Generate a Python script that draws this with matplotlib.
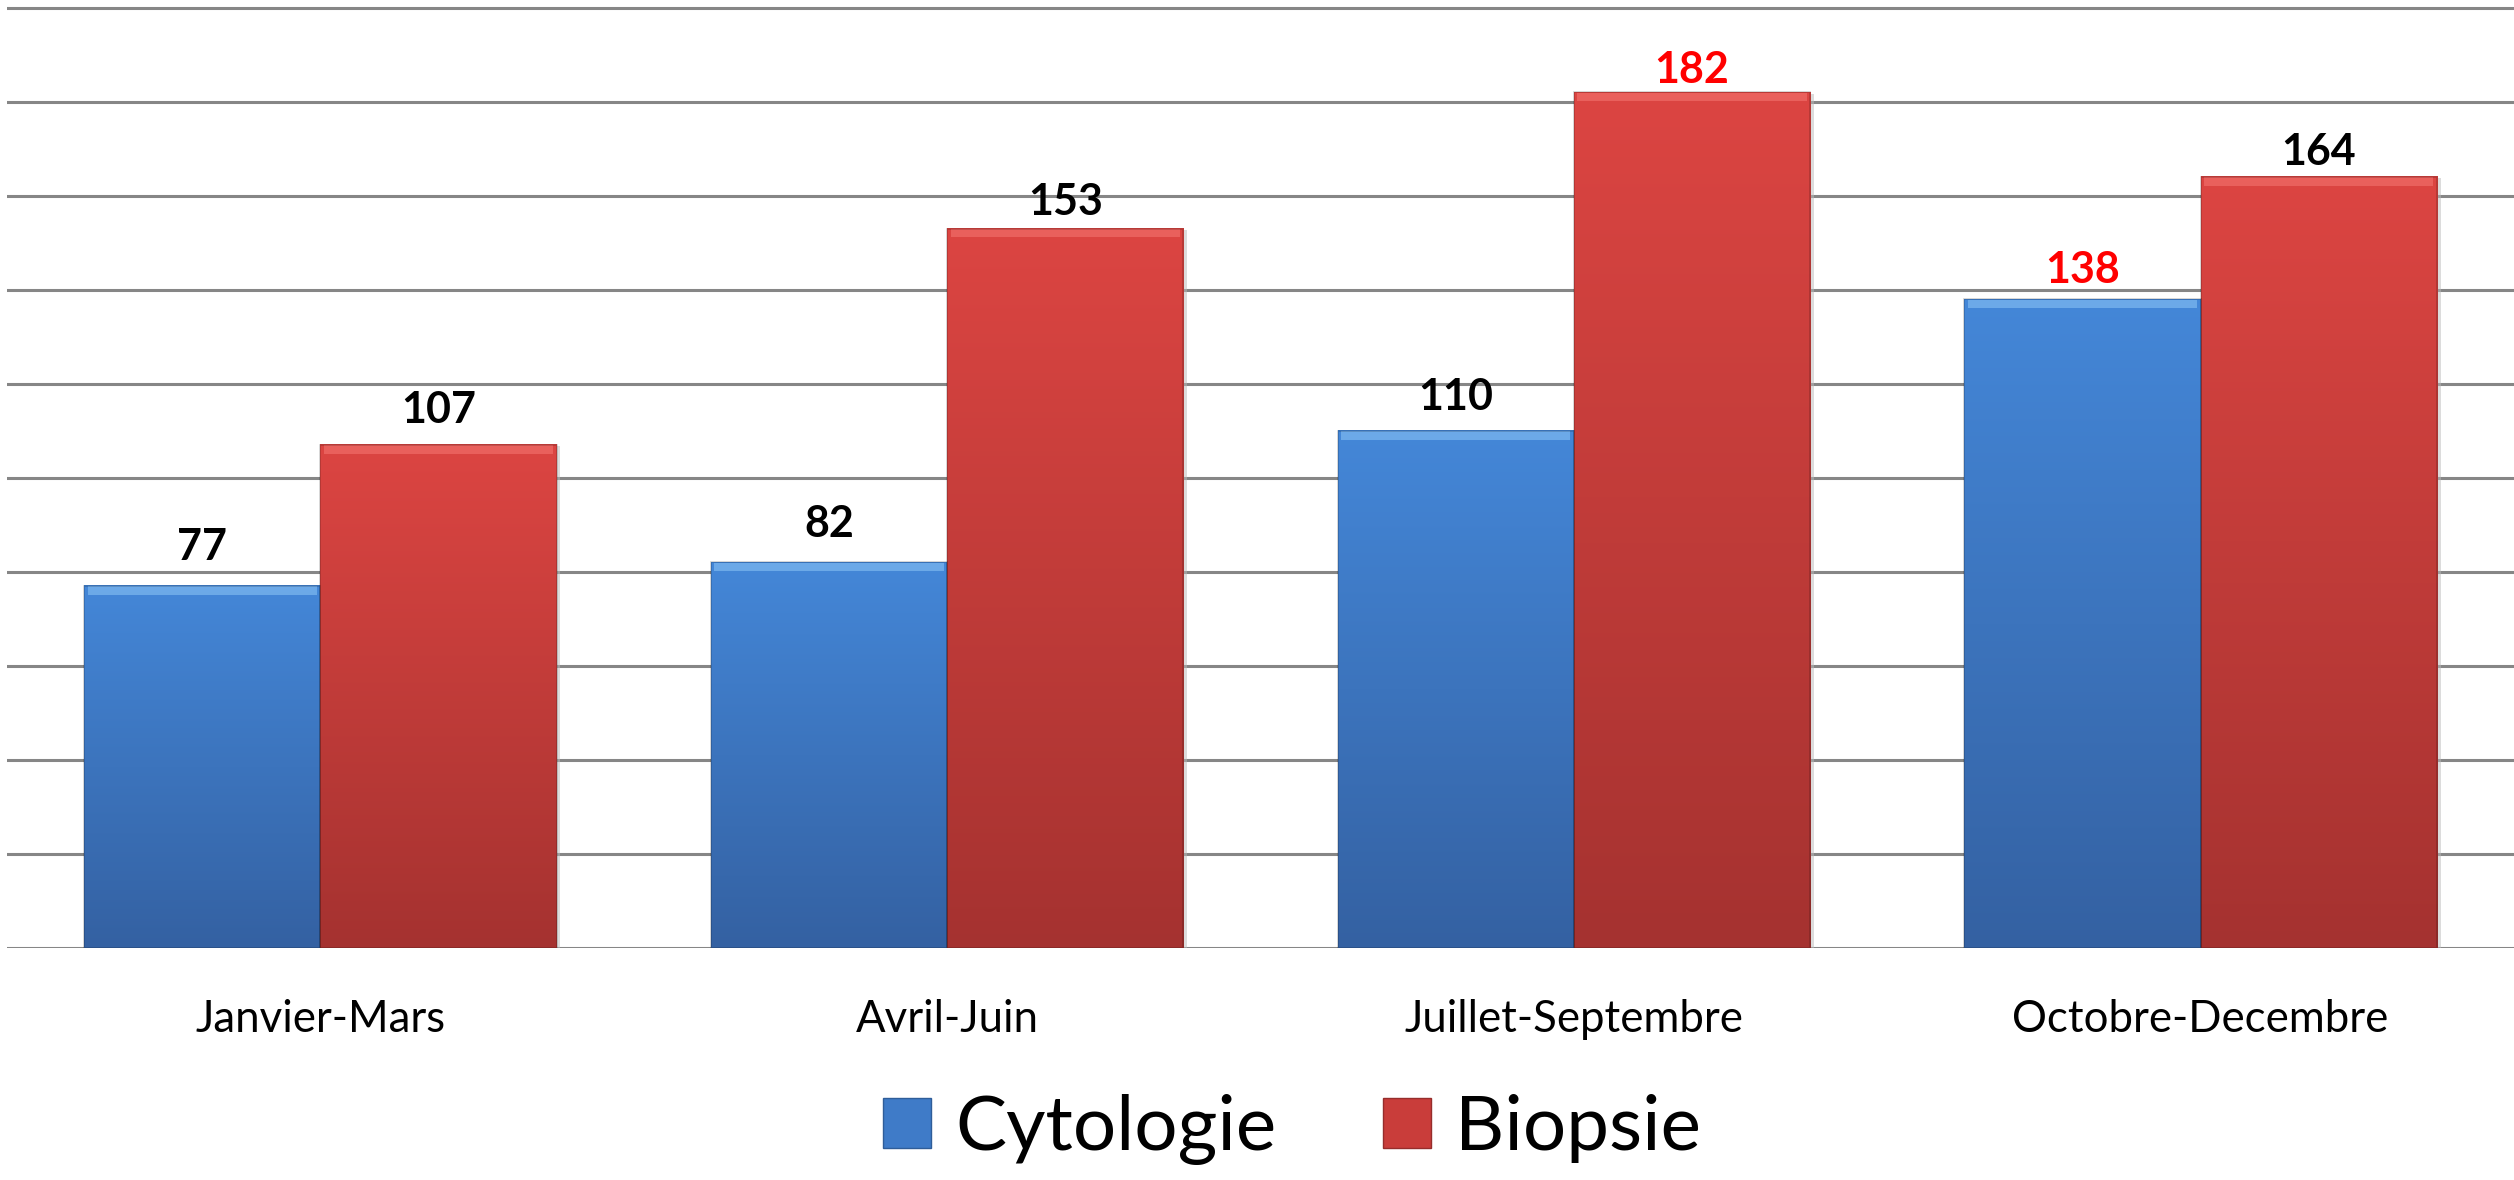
import numpy as np
import matplotlib
matplotlib.use("Agg")
import matplotlib.pyplot as plt
from matplotlib.colors import LinearSegmentedColormap
from matplotlib.patches import Patch

categories = ["Janvier-Mars", "Avril-Juin", "Juillet-Septembre", "Octobre-Decembre"]
series_names = ["Cytologie", "Biopsie"]
cytologie = [77, 82, 110, 138]
biopsie = [107, 153, 182, 164]
# labels shown in red in the original
red_labels = {("Cytologie", 3), ("Biopsie", 2)}

plt.rcParams["font.family"] = ["Lato", "DejaVu Sans"]

fig = plt.figure(figsize=(25.14, 11.8), dpi=100)
ax = fig.add_axes([7 / 2514, 232 / 1180, 1 - 7 / 2514, 1 - 232 / 1180])

cmap_blue = LinearSegmentedColormap.from_list("b", ["#3461a2", "#4487d8"])
cmap_red = LinearSegmentedColormap.from_list("r", ["#a53230", "#dc4542"])
top_blue = "#7ab6ee"
top_red = "#ef6a66"

width = 0.377
x = np.arange(len(categories))
grad = np.linspace(0, 1, 256).reshape(-1, 1)


def draw_bar(xc, h, cmap, top_col):
    x0, x1 = xc - width / 2, xc + width / 2
    # faint shadow
    ax.bar(xc + 0.006, h, width, bottom=-0.3, color="#bbbbbb", alpha=0.5, zorder=2)
    ax.imshow(grad, cmap=cmap, origin="lower", extent=[x0, x1, 0, h],
              aspect="auto", zorder=3, interpolation="bilinear")
    # bevel highlight at the top
    ax.bar(xc, 1.8, width * 0.97, bottom=h - 1.9, color=top_col, alpha=0.75,
           zorder=4, linewidth=0)
    ax.bar(xc, h, width, color="none", edgecolor="#00000030", linewidth=1.2, zorder=5)


for i in range(len(categories)):
    draw_bar(x[i] - width / 2, cytologie[i], cmap_blue, top_blue)
    draw_bar(x[i] + width / 2, biopsie[i], cmap_red, top_red)

for name, vals, off in [("Cytologie", cytologie, -width / 2), ("Biopsie", biopsie, width / 2)]:
    for i, v in enumerate(vals):
        col = "#ff0000" if (name, i) in red_labels else "black"
        ax.text(x[i] + off, v * 0.965 + 8.3, str(v), ha="center", va="baseline",
                fontsize=31, fontweight="bold", color=col, zorder=6)

ax.set_xlim(-0.5, len(categories) - 0.5)
ax.set_ylim(0, 201.6)
ax.set_yticks(np.arange(0, 201, 20))
ax.set_yticklabels([])
ax.grid(axis="y", color="#868686", linewidth=2.2, zorder=0)
ax.set_axisbelow(True)
ax.tick_params(length=0)
ax.set_xticks(x)
ax.set_xticklabels(categories, fontsize=31.5)
ax.tick_params(axis="x", pad=37)
for s in ax.spines.values():
    s.set_visible(False)

handles = [Patch(facecolor="#3f7bc8", edgecolor="#2f5d99", linewidth=1),
           Patch(facecolor="#c93d3a", edgecolor="#962d2b", linewidth=1)]
fig.legend(handles, series_names, loc="center", bbox_to_anchor=(0.514, 0.043),
           ncol=2, frameon=False, fontsize=55, handlelength=0.62, handleheight=0.62,
           handletextpad=0.32, columnspacing=1.4)

fig.savefig("out.png", dpi=100)
